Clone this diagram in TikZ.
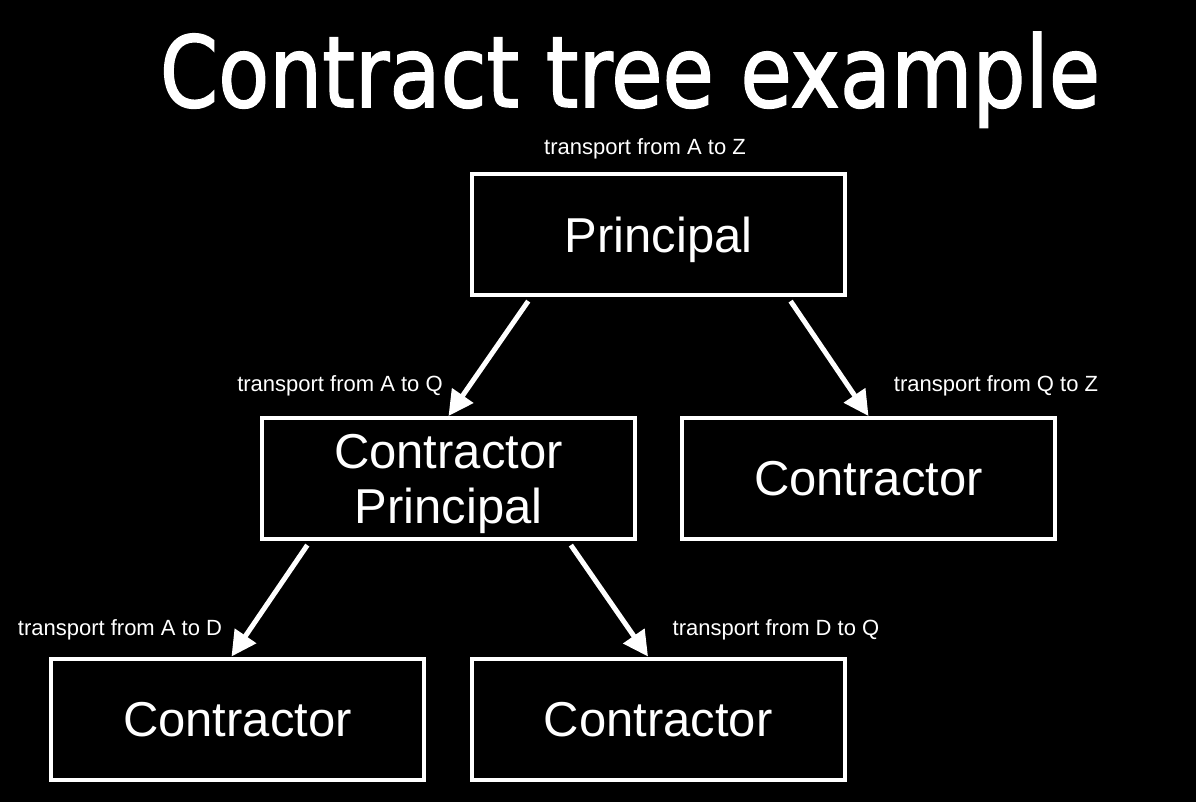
\documentclass[tikz,border=0pt]{standalone}
\usepackage{fontspec}
\setmainfont{Liberation Sans}
\newfontfamily\titlefont[FakeBold=1.6]{DejaVu Sans}
\usetikzlibrary{calc,arrows.meta}
\begin{document}
\begin{tikzpicture}[x=1pt,y=-1pt,
  party/.style={draw=white,line width=4pt,fill=black,text=white,
    minimum width=373pt,minimum height=121pt,inner sep=0pt,text depth=0pt,
    font=\fontsize{49}{55}\selectfont,align=center},
  deal/.style={text=white,inner sep=0pt,font=\fontsize{22}{26}\selectfont},
  link/.style={draw=white,line width=5pt,shorten <=5pt,
    -{Triangle[length=25pt,width=25pt]}}]
  % canvas
  \fill[black] (0,0) rectangle (1196,802);
  \useasboundingbox (0,0) rectangle (1196,802);

  % heading
  \node[text=white,inner sep=0pt,anchor=base] (title) at (630,107)
    {\resizebox{940pt}{75pt}{\titlefont Contract tree example}};

  % parties
  \node[party] (top)   at (658.5,234.5) {Principal};
  \node[party] (mid)   at (448.5,478.5) {Contractor\\Principal};
  \node[party] (right) at (868.5,478.5) {Contractor};
  \node[party] (bl)    at (237.5,719)   {Contractor};
  \node[party] (bm)    at (658,719)     {Contractor};

  % contract labels
  \node[deal] (lz)  at (645,149) {transport from A to Z};
  \node[deal] (laq) at (340,386) {transport from A to Q};
  \node[deal] (lqz) at (996,386) {transport from Q to Z};
  \node[deal] (lad) at (120,630) {transport from A to D};
  \node[deal] (ldq) at (776,630) {transport from D to Q};

  % subcontracting arrows
  \draw[link] ($(top.south west)!0.162!(top.south east)$) -- (mid.north);
  \draw[link] ($(top.south west)!0.843!(top.south east)$) -- (right.north);
  \draw[link] ($(mid.south west)!0.133!(mid.south east)$) -- ($(bl.north)+(-6,0)$);
  \draw[link] ($(mid.south west)!0.817!(mid.south east)$) -- ($(bm.north)+(-10,0)$);
\end{tikzpicture}
\end{document}
